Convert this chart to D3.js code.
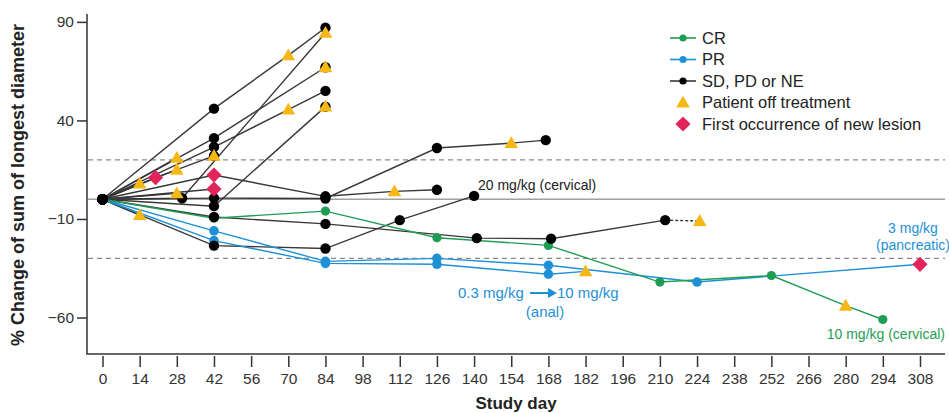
<!DOCTYPE html>
<html>
<head>
<meta charset="utf-8">
<script src="https://cdn.jsdelivr.net/npm/d3@7"></script>
<style>
  body { margin: 0; background: #fff; }
  svg { font-family: "Liberation Sans", Arial, sans-serif; }
</style>
</head>
<body>
<svg id="chart" width="949" height="413"></svg>
<script>
// each point: [study day, % change, marker]
// o = response dot, t = off treatment, ot = dot under triangle, n = new lesion
const dayTicks = [0, 14, 28, 42, 56, 70, 84, 98, 112, 126, 140, 154, 168, 182, 196, 210, 224, 238, 252, 266, 280, 294, 308];
const pctTicks = [90, 40, -10, -60];
const refLevels = [20, -30];

const crCervical = [[0, 0, "o"], [42, -9.6, "o"], [84, -6, "o"], [126, -19.5, "o"], [168, -23.4, "o"], [210, -42, "o"], [252, -38.7, "o"], [280, -54, "t"], [294, -61, "o"]];

const prPancreatic = [[0, 0, "o"], [42, -16, "o"], [84, -31.5, "o"], [126, -30, "o"], [168, -33.5, "o"], [224, -42, "o"], [308, -33, "n"]];
const prAnal = [[0, 0, "o"], [42, -21, "o"], [84, -32.5, "o"], [126, -33, "o"], [168, -38, "o"], [182, -36.6, "t"]];

const sd01 = [[0, 0, "o"], [42, 46, "o"], [70, 73, "t"], [84, 87, "o"]];
const sd02 = [[0, 0, "o"], [30, 0.5, "o"], [84, 84.5, "t"]];
const sd03 = [[0, 0, "o"], [42, 31, "o"], [84, 67, "ot"]];
const sd04 = [[0, 0, "o"], [42, 26.5, "o"], [70, 45.5, "t"], [84, 55, "o"]];
const sd05 = [[0, 0, "o"], [20, 11, "n"], [42, 22, "ot"]];
const sd06 = [[0, 0, "o"], [42, 12.3, "n"], [84, 1.5, "o"], [110, 4, "t"], [126, 4.8, "o"]];
const sd07 = [[0, 0, "o"], [42, 5.2, "n"]];
const sd08 = [[0, 0, "o"], [42, 0.6, "o"], [84, 0.4, "o"], [126, 26, "o"], [154, 28.5, "t"], [167, 30, "o"]];
const sd09 = [[0, 0, "o"], [42, -3.5, "o"], [84, 47, "ot"]];
const sd10 = [[0, 0, "o"], [14, 8, "t"]];
const sd11 = [[0, 0, "o"], [28, 21, "t"]];
const sd12 = [[0, 0, "o"], [28, 15, "t"]];
const sd13 = [[0, 0, "o"], [28, 3, "t"]];
const sd14 = [[0, 0, "o"], [14, -8, "t"]];
const sd15 = [[0, 0, "o"], [42, -9, "o"], [84, -12.5, "o"], [141, -19.7, "o"], [169, -20, "o"], [212, -10.6, "o"], [225, -11, "t"]];
const sd16 = [[0, 0, "o"], [42, -23.5, "o"], [84, -25, "o"], [112, -10.6, "o"], [140, 1.7, "o"]];

const blackSeries = [sd01, sd02, sd03, sd04, sd05, sd06, sd07, sd08, sd09, sd10, sd11, sd12, sd13, sd14, sd15, sd16];
const blueSeries = [prPancreatic, prAnal];
const greenSeries = [crCervical];
// last segment of this one is drawn dashed
const dashedTail = [sd15];

const legendLabels = ["CR", "PR", "SD, PD or NE", "Patient off treatment", "First occurrence of new lesion"];

const colGreen = "#1f9d55";
const colBlue = "#1e90d6";
const colBlack = "#000";
const colTri = "#f6b815";
const colNew = "#e3245a";

const svg = d3.select("#chart");

const x = d3.scaleLinear().domain([0, 308]).range([102.5, 920]);
const y = d3.scaleLinear().domain([-78.5, 94]).range([354, 14]);

// reference lines
svg.append("line")
  .attr("x1", 88).attr("x2", 945)
  .attr("y1", y(0)).attr("y2", y(0))
  .attr("stroke", "#a0a0a0").attr("stroke-width", 1.5);

svg.selectAll(".ref")
  .data(refLevels)
  .enter()
  .append("line")
  .attr("x1", 88).attr("x2", 945)
  .attr("y1", d => y(d)).attr("y2", d => y(d))
  .attr("stroke", "#8a8a8a").attr("stroke-width", 1.2)
  .attr("stroke-dasharray", "5,4");

// axes
const yAxis = svg.append("g").attr("transform", "translate(87,0)")
  .call(d3.axisLeft(y).tickValues(pctTicks).tickSize(10).tickPadding(3));
yAxis.select(".domain").attr("d", `M0,${y(94)}V${y(-78.5)}`).attr("stroke", "#333").attr("stroke-width", 1.5);
yAxis.selectAll(".tick line").attr("stroke", "#333").attr("stroke-width", 1.5);
yAxis.selectAll("text").attr("font-size", 15.5).attr("fill", "#333")
  .attr("font-family", "'Liberation Sans Narrow', 'Arial Narrow', Arial, sans-serif");

svg.append("line")
  .attr("x1", 86.3).attr("x2", 945)
  .attr("y1", 354).attr("y2", 354)
  .attr("stroke", "#333").attr("stroke-width", 1.5);

const xAxis = svg.append("g").attr("transform", "translate(0,356)")
  .call(d3.axisBottom(x).tickValues(dayTicks).tickSize(11).tickPadding(6));
xAxis.select(".domain").remove();
xAxis.selectAll(".tick line").attr("stroke", "#333").attr("stroke-width", 1.5);
xAxis.selectAll("text").attr("font-size", 15.5).attr("fill", "#333")
  .attr("font-family", "'Liberation Sans Narrow', 'Arial Narrow', Arial, sans-serif");

svg.append("text")
  .attr("x", 516).attr("y", 409)
  .attr("text-anchor", "middle")
  .attr("font-size", 17).attr("font-weight", "bold").attr("fill", "#222")
  .text("Study day");

svg.append("text")
  .attr("transform", "translate(24,185) rotate(-90)")
  .attr("text-anchor", "middle")
  .attr("font-size", 18).attr("font-weight", "bold").attr("fill", "#222")
  .text("% Change of sum of longest diameter");

// lines
const line = d3.line().x(d => x(d[0])).y(d => y(d[1]));

function drawLines(list, color) {
  list.forEach(s => {
    const dashed = dashedTail.includes(s);
    const body = dashed ? s.slice(0, -1) : s;
    svg.append("path")
      .attr("d", line(body))
      .attr("fill", "none")
      .attr("stroke", color)
      .attr("stroke-width", 1.4);
    if (dashed) {
      svg.append("path")
        .attr("d", line(s.slice(-2)))
        .attr("fill", "none")
        .attr("stroke", color)
        .attr("stroke-width", 1.4)
        .attr("stroke-dasharray", "3,2");
    }
  });
}
drawLines(blackSeries, "#383838");
drawLines(blueSeries, colBlue);
drawLines(greenSeries, colGreen);

// markers
const triPath = d3.symbol().type(d3.symbolTriangle).size(80);
const diaPath = d3.symbol().type(d3.symbolSquare).size(115);

function drawDots(list, color, r) {
  list.forEach(s => {
    svg.selectAll(null)
      .data(s.filter(d => d[2] === "o" || d[2] === "ot"))
      .enter()
      .append("circle")
      .attr("cx", d => x(d[0])).attr("cy", d => y(d[1]))
      .attr("r", r)
      .attr("fill", color);
  });
}
drawDots(greenSeries, colGreen, 4.6);
drawDots(blueSeries, colBlue, 4.8);
drawDots(blackSeries, colBlack, 5.2);

const allSeries = blackSeries.concat(blueSeries, greenSeries);
allSeries.forEach(s => {
  svg.selectAll(null)
    .data(s.filter(d => d[2] === "t" || d[2] === "ot"))
    .enter()
    .append("path")
    .attr("d", triPath)
    .attr("transform", d => `translate(${x(d[0])},${y(d[1]) + 1})`)
    .attr("fill", colTri);
  svg.selectAll(null)
    .data(s.filter(d => d[2] === "n"))
    .enter()
    .append("path")
    .attr("d", diaPath)
    .attr("transform", d => `translate(${x(d[0])},${y(d[1])}) rotate(45)`)
    .attr("fill", colNew);
});

// annotations
svg.append("text")
  .attr("x", 478).attr("y", 190)
  .attr("font-size", 14).attr("fill", "#222")
  .text("20 mg/kg (cervical)");

svg.append("text")
  .attr("x", 458).attr("y", 298)
  .attr("font-size", 15).attr("fill", colBlue)
  .text("0.3 mg/kg");
svg.append("line")
  .attr("x1", 530).attr("x2", 550)
  .attr("y1", 293).attr("y2", 293)
  .attr("stroke", colBlue).attr("stroke-width", 2);
svg.append("path")
  .attr("d", "M548,288L557,293L548,298Z")
  .attr("fill", colBlue);
svg.append("text")
  .attr("x", 557).attr("y", 298)
  .attr("font-size", 15).attr("fill", colBlue)
  .text("10 mg/kg");
svg.append("text")
  .attr("x", 545).attr("y", 317)
  .attr("text-anchor", "middle")
  .attr("font-size", 15).attr("fill", colBlue)
  .text("(anal)");

svg.append("text")
  .attr("x", 913).attr("y", 233)
  .attr("text-anchor", "middle")
  .attr("font-size", 14).attr("fill", colBlue)
  .text("3 mg/kg");
svg.append("text")
  .attr("x", 913).attr("y", 250)
  .attr("text-anchor", "middle")
  .attr("font-size", 14).attr("fill", colBlue)
  .text("(pancreatic)");

svg.append("text")
  .attr("x", 945).attr("y", 339)
  .attr("text-anchor", "end")
  .attr("font-size", 14).attr("fill", colGreen)
  .text("10 mg/kg (cervical)");

// legend
const legend = svg.append("g").attr("transform", "translate(670,38)");
const legendColors = [colGreen, colBlue, colBlack];
legendLabels.forEach((label, i) => {
  const g = legend.append("g").attr("transform", `translate(0,${i * 21.5})`);
  if (i < 3) {
    g.append("line").attr("x1", 0).attr("x2", 26).attr("y1", 0).attr("y2", 0)
      .attr("stroke", i === 2 ? "#383838" : legendColors[i]).attr("stroke-width", 1.6);
    g.append("circle").attr("cx", 13).attr("cy", 0).attr("r", 3.6).attr("fill", legendColors[i]);
  } else if (i === 3) {
    g.append("path").attr("d", triPath).attr("transform", "translate(13,1)").attr("fill", colTri);
  } else {
    g.append("path").attr("d", diaPath).attr("transform", "translate(13,0) rotate(45)").attr("fill", colNew);
  }
  g.append("text")
    .attr("x", 32).attr("y", 0).attr("dy", "0.35em")
    .attr("font-size", 16.5).attr("fill", "#222")
    .text(label);
});
</script>
</body>
</html>
